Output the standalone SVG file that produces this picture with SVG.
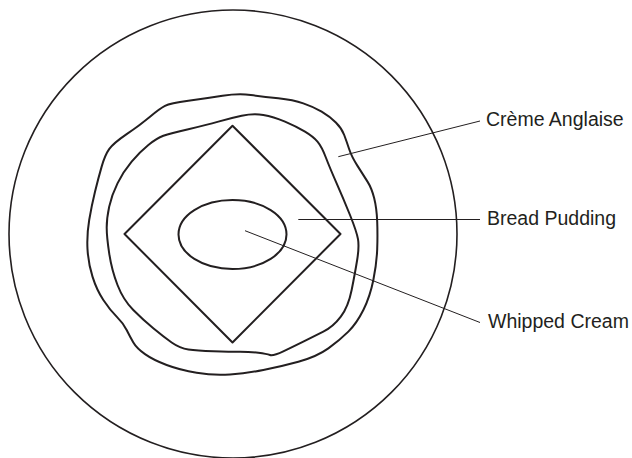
<svg xmlns="http://www.w3.org/2000/svg" width="632" height="458" viewBox="0 0 632 458">
<style>
.shape{fill:none;stroke:#231f20;stroke-width:2;stroke-linejoin:round}
.plate{fill:none;stroke:#231f20;stroke-width:1.6}
.lead{fill:none;stroke:#231f20;stroke-width:1}
.lbl{font-family:"Liberation Sans",Arial,sans-serif;font-size:19.5px;fill:#231f20}
</style>
<rect width="632" height="458" fill="#ffffff"/>
<g id="plate"><circle class="plate" cx="233" cy="234" r="224"/></g>
<g id="creme-anglaise">
<path class="shape" d="M 222.5 95.8 Q 238.3 93.3 250.8 95 Q 263.3 96.7 278.3 98.35 Q 293.3 100 303.3 103.35 Q 313.3 106.7 321.65 111.7 Q 330 116.7 335.85 122.5 Q 341.7 128.3 344.2 135 Q 346.7 141.7 349.2 149.2 Q 351.7 156.7 357.5 165.85 Q 363.3 175 367.5 181.65 Q 371.7 188.3 374.2 198.3 Q 376.7 208.3 377.2 221.65 Q 377.7 235 377.2 249.15 Q 376.7 263.3 373.35 280 Q 370 296.7 363.35 310 Q 356.7 323.3 348.35 331.65 Q 340 340 328.35 348.35 Q 316.7 356.7 298.35 361.7 Q 280 366.7 263.35 370 Q 246.7 373.3 230 374.5 Q 213.3 375.7 196.65 372.85 Q 180 370 166.65 365 Q 153.3 360 145 354.15 Q 136.7 348.3 133.35 342.5 Q 130 336.7 126.65 330 Q 123.3 323.3 116.65 316.65 Q 110 310 103.35 300 Q 96.7 290 92.5 276.65 Q 88.3 263.3 87.5 249.15 Q 86.7 235 89.2 220 Q 91.7 205 95 191.65 Q 98.3 178.3 101.65 166.65 Q 105 155 109.15 149.15 Q 113.3 143.3 126.65 134.15 Q 140 125 150 116.65 Q 160 108.3 165 105.8 Q 170 103.3 188.35 100.8 Q 206.7 98.3 222.5 95.8 Z"/>
<text class="lbl" x="486" y="126">Crème Anglaise</text>
</g>
<g id="bread-pudding">
<path class="shape" d="M 241.65 115.8 Q 253.3 113.3 263.3 115 Q 273.3 116.7 285 121.7 Q 296.7 126.7 305 131.7 Q 313.3 136.7 317.5 141.7 Q 321.7 146.7 325.85 157.5 Q 330 168.3 336.65 183.3 Q 343.3 198.3 350 215 Q 356.7 231.7 358 239.2 Q 359.3 246.7 357.15 260 Q 355 273.3 351.65 290 Q 348.3 306.7 340.8 316.7 Q 333.3 326.7 323.3 331.7 Q 313.3 336.7 303.3 341.7 Q 293.3 346.7 283.3 351.35 Q 273.3 356 270 355 Q 266.7 354 258.35 352.85 Q 250 351.7 240 351.7 Q 230 351.7 213.35 351.2 Q 196.7 350.7 188.35 349.5 Q 180 348.3 171.65 342.5 Q 163.3 336.7 153.3 328.35 Q 143.3 320 133.3 310 Q 123.3 300 117.5 285 Q 111.7 270 109.2 253.35 Q 106.7 236.7 106.7 227.5 Q 106.7 218.3 109.2 206.65 Q 111.7 195 117.5 183.35 Q 123.3 171.7 131.65 161.7 Q 140 151.7 148.35 145 Q 156.7 138.3 163.35 135.8 Q 170 133.3 188.35 129.15 Q 206.7 125 218.35 121.65 Q 230 118.3 241.65 115.8 Z"/>
<text class="lbl" x="487" y="224.5">Bread Pudding</text>
</g>
<g id="diamond"><polygon class="shape" points="232.5,125.7 340.5,234 232.5,342.5 124.5,234"/></g>
<g id="whipped-cream">
<ellipse class="shape" cx="232.5" cy="234.5" rx="54" ry="34.5"/>
<text class="lbl" x="488" y="327.5">Whipped Cream</text>
</g>
<g id="connectors">
<line class="lead" x1="338.3" y1="156.7" x2="480" y2="121"/>
<line class="lead" x1="298.3" y1="219.5" x2="480" y2="219.5"/>
<line class="lead" x1="245" y1="230.7" x2="480" y2="322.5"/>
</g>
</svg>
